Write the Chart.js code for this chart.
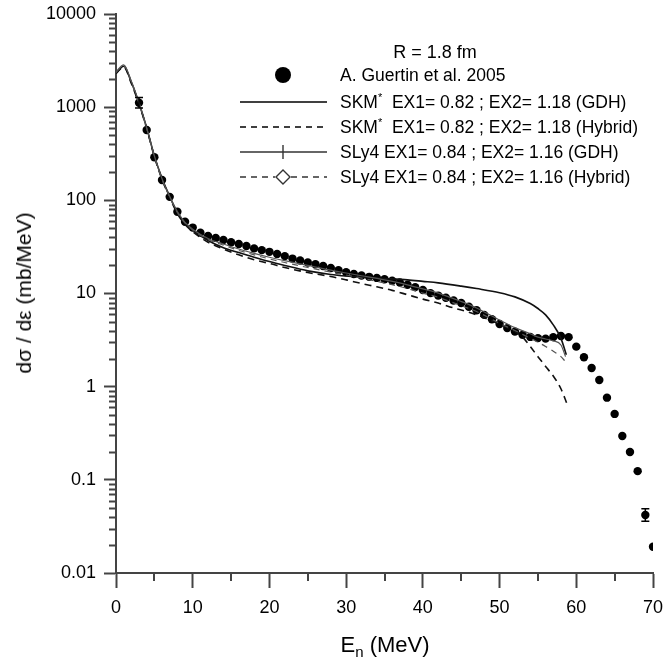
<!DOCTYPE html>
<html>
<head>
<meta charset="utf-8">
<script src="https://cdn.jsdelivr.net/npm/chart.js@4.4.1/dist/chart.umd.min.js"></script>
<style>
  html, body { margin: 0; padding: 0; background: #fff; }
  #wrap { position: relative; width: 663px; height: 662px; font-family: "Liberation Sans", Arial, sans-serif; color: #000; }
  #chart { position: absolute; left: 0; top: 0; }
  .ytitle { position: absolute; left: 24px; top: 293px; transform: translate(-50%, -50%) rotate(-90deg); font-size: 21px; white-space: nowrap; }
  .xtitle { position: absolute; left: 385px; top: 646px; transform: translate(-50%, -50%); font-size: 22px; white-space: nowrap; }
  .xtitle sub { font-size: 15px; }
  .legtitle { position: absolute; left: 435px; top: 52px; transform: translate(-50%, -50%); font-size: 18px; white-space: nowrap; }
  .legrow { position: absolute; left: 340px; font-size: 17.5px; white-space: nowrap; transform: translateY(-50%); }
  .legrow sup { font-size: 11px; }
  .legsvg { position: absolute; left: 238px; }
</style>
</head>
<body>
<div id="wrap">
  <canvas id="chart" width="663" height="662"></canvas>
  <div class="ytitle">dσ / dε (mb/MeV)</div>
  <div class="xtitle">E<sub>n</sub> (MeV)</div>
  <div class="legtitle">R = 1.8 fm</div>
  <div id="legend"></div>
</div>
<script>
// experimental points (MeV, mb/MeV)
const expX = [3, 4, 5, 6, 7, 8, 9, 10, 11, 12, 13, 14, 15, 16, 17, 18, 19, 20, 21, 22, 23, 24, 25, 26, 27, 28, 29, 30,
  31, 32, 33, 34, 35, 36, 37, 38, 39, 40, 41, 42, 43, 44, 45, 46, 47, 48, 49, 50, 51, 52, 53, 54, 55, 56, 57, 58, 59,
  60, 61, 62, 63, 64, 65, 66, 67, 68, 69, 70];
const expY = [1117, 569, 290, 165, 109, 75.5, 59, 51, 45, 41.5, 39.5, 37.5, 35.5, 34, 32.3, 30.5, 29.2, 28, 26.6, 25.2,
  23.7, 22.6, 21.5, 20.6, 19.7, 18.8, 17.8, 16.9, 16.2, 15.6, 15.1, 14.7, 14.2, 13.7, 13.1, 12.4, 11.7, 10.9, 10.1, 9.5,
  9.0, 8.4, 7.9, 7.2, 6.6, 5.9, 5.3, 4.7, 4.25, 3.9, 3.6, 3.42, 3.32, 3.28, 3.4, 3.5, 3.4,
  2.69, 2.07, 1.585, 1.18, 0.762, 0.51, 0.295, 0.199, 0.124, 0.042, 0.0191];
// error bars visible in the picture
const errX = [3, 69];
const errLo = [980, 0.036];
const errHi = [1270, 0.049];

// model curves
const skmGdhX = [0, 1, 2, 3, 4, 5, 6, 7, 8, 9, 10, 12, 14, 16, 18, 20, 22, 25, 28, 30, 32, 35, 38, 40, 42, 45, 47, 50, 52, 54, 55, 56, 57, 58, 58.7];
const skmGdhY = [2300, 2750, 1850, 1100, 600, 300, 172, 110, 74, 57, 48, 37, 31, 27.5, 24.5, 22, 20, 17.5, 16, 15.4, 15, 14.5, 14, 13.5, 13, 12, 11.3, 10.2, 9.2, 7.8, 6.9, 5.9, 4.6, 3.3, 2.2];

const skmHybX = [0, 1, 2, 3, 4, 5, 6, 7, 8, 9, 10, 12, 14, 16, 18, 20, 22, 25, 28, 30, 32, 34, 36, 38, 40, 42, 44, 46, 48, 50, 52, 53, 54, 55, 56, 57, 58, 58.8];
const skmHybY = [2300, 2700, 1800, 1080, 590, 295, 168, 107, 72, 55, 46, 35.5, 30, 26, 23, 21, 19, 16.8, 15.2, 14, 12.8, 11.8, 10.8, 9.7, 8.7, 7.9, 7.0, 6.3, 5.5, 4.7, 3.9, 3.4, 2.7, 2.1, 1.65, 1.3, 0.95, 0.65];

const slyGdhX = [0, 1, 2, 3, 4, 5, 6, 7, 8, 9, 10, 12, 14, 16, 18, 20, 22, 25, 28, 30, 32, 35, 38, 40, 42, 45, 47, 50, 52, 54, 55, 56, 57, 58, 58.6];
const slyGdhY = [2400, 2850, 1900, 1120, 600, 300, 170, 110, 76, 58, 49, 39, 34, 30, 27, 24.5, 22.5, 20, 17.8, 16.6, 15.5, 14, 12.4, 11.2, 10.1, 8.2, 7.0, 5.2, 4.3, 3.7, 3.4, 3.25, 3.1, 2.8, 2.1];

const slyHybX = [0, 1, 2, 3, 4, 5, 6, 7, 8, 9, 10, 12, 14, 16, 18, 20, 22, 25, 28, 30, 32, 35, 38, 40, 42, 45, 47, 50, 52, 54, 55, 56, 57, 58, 58.6];
const slyHybY = [2350, 2800, 1870, 1100, 590, 298, 168, 108, 74, 57, 48, 38, 33, 29, 26, 23.5, 21.5, 19, 17, 15.8, 14.6, 13, 11.3, 10.1, 9.1, 7.4, 6.4, 4.8, 4.0, 3.3, 3.0, 2.7, 2.4, 2.1, 1.85];

const xTicks = [0, 10, 20, 30, 40, 50, 60, 70];
const yTicks = [0.01, 0.1, 1, 10, 100, 1000, 10000];
const yTickLabels = ['0.01', '0.1', '1', '10', '100', '1000', '10000'];

const legendNames = [
  'A. Guertin et al. 2005',
  'SKM<sup>*</sup>&nbsp; EX1= 0.82 ; EX2= 1.18 (GDH)',
  'SKM<sup>*</sup>&nbsp; EX1= 0.82 ; EX2= 1.18 (Hybrid)',
  'SLy4 EX1= 0.84 ; EX2= 1.16 (GDH)',
  'SLy4 EX1= 0.84 ; EX2= 1.16 (Hybrid)'
];

const pts = (xs, ys) => xs.map((v, i) => ({ x: v, y: ys[i] }));
const axisColor = '#444';

// legend (html)
const legRowsY = [75, 102, 127, 152, 177];
const legSamples = [
  '<circle cx="45" cy="9" r="8" fill="#000"/>',
  '<line x1="2" y1="9" x2="89" y2="9" stroke="#000" stroke-width="1.6"/>',
  '<line x1="2" y1="9" x2="89" y2="9" stroke="#000" stroke-width="1.6" stroke-dasharray="6 5"/>',
  '<line x1="2" y1="9" x2="89" y2="9" stroke="#333" stroke-width="1.4"/><line x1="45" y1="2" x2="45" y2="16" stroke="#333" stroke-width="1.4"/>',
  '<line x1="2" y1="9" x2="37" y2="9" stroke="#333" stroke-width="1.4" stroke-dasharray="6 5"/><line x1="53" y1="9" x2="89" y2="9" stroke="#333" stroke-width="1.4" stroke-dasharray="6 5"/><path d="M45 2 L52 9 L45 16 L38 9 Z" fill="#fff" stroke="#333" stroke-width="1.4"/>'
];
const legend = document.getElementById('legend');
legendNames.forEach((name, i) => {
  const svg = document.createElementNS('http://www.w3.org/2000/svg', 'svg');
  svg.setAttribute('width', '92');
  svg.setAttribute('height', '18');
  svg.setAttribute('class', 'legsvg');
  svg.style.top = (legRowsY[i] - 9) + 'px';
  svg.innerHTML = legSamples[i];
  legend.appendChild(svg);
  const row = document.createElement('div');
  row.className = 'legrow';
  row.style.top = legRowsY[i] + 'px';
  row.innerHTML = name;
  legend.appendChild(row);
});

// minor ticks + error bars
const extras = {
  id: 'extras',
  afterDatasetsDraw(chart) {
    const { ctx, scales: { x, y } } = chart;
    ctx.save();
    ctx.strokeStyle = '#000';
    ctx.lineWidth = 1.5;
    errX.forEach((ex, i) => {
      const px = x.getPixelForValue(ex);
      const lo = y.getPixelForValue(errLo[i]);
      const hi = y.getPixelForValue(errHi[i]);
      ctx.beginPath();
      ctx.moveTo(px, lo); ctx.lineTo(px, hi);
      ctx.moveTo(px - 4, lo); ctx.lineTo(px + 4, lo);
      ctx.moveTo(px - 4, hi); ctx.lineTo(px + 4, hi);
      ctx.stroke();
    });
    ctx.restore();
  },
  afterDraw(chart) {
    const { ctx, scales: { x, y }, chartArea } = chart;
    ctx.save();
    ctx.strokeStyle = axisColor;
    ctx.lineWidth = 2;
    ctx.beginPath();
    for (let e = -2; e < 4; e++) {
      for (let k = 2; k < 10; k++) {
        const py = Math.round(y.getPixelForValue(k * Math.pow(10, e))) + 0.5;
        ctx.moveTo(chartArea.left - 7, py);
        ctx.lineTo(chartArea.left, py);
      }
    }
    for (let v = 5; v < 70; v += 10) {
      const px = Math.round(x.getPixelForValue(v));
      ctx.moveTo(px, chartArea.bottom);
      ctx.lineTo(px, chartArea.bottom + 8);
    }
    ctx.stroke();
    ctx.restore();
  }
};

new Chart(document.getElementById('chart'), {
  type: 'scatter',
  data: {
    datasets: [
      {
        label: 'SLy4 Hybrid',
        data: pts(slyHybX, slyHybY),
        showLine: true,
        borderColor: '#555',
        borderWidth: 1.2,
        borderDash: [6, 5],
        pointRadius: 0,
        cubicInterpolationMode: 'monotone'
      },
      {
        label: 'SLy4 GDH',
        data: pts(slyGdhX, slyGdhY),
        showLine: true,
        borderColor: '#555',
        borderWidth: 1.2,
        pointRadius: 0,
        cubicInterpolationMode: 'monotone'
      },
      {
        label: 'SKM* Hybrid',
        data: pts(skmHybX, skmHybY),
        showLine: true,
        borderColor: '#111',
        borderWidth: 1.6,
        borderDash: [7, 5],
        pointRadius: 0,
        cubicInterpolationMode: 'monotone'
      },
      {
        label: 'SKM* GDH',
        data: pts(skmGdhX, skmGdhY),
        showLine: true,
        borderColor: '#111',
        borderWidth: 1.6,
        pointRadius: 0,
        cubicInterpolationMode: 'monotone'
      },
      {
        label: 'A. Guertin et al. 2005',
        data: pts(expX, expY),
        showLine: false,
        pointRadius: 4.2,
        pointBackgroundColor: '#000',
        pointBorderColor: '#000',
        pointBorderWidth: 0
      }
    ]
  },
  options: {
    responsive: false,
    animation: false,
    devicePixelRatio: 1,
    layout: { padding: { left: 0, right: 10, top: 14, bottom: 0 } },
    plugins: { legend: { display: false }, tooltip: { enabled: false } },
    scales: {
      x: {
        type: 'linear',
        min: 0,
        max: 70,
        afterBuildTicks: s => { s.ticks = xTicks.map(v => ({ value: v })); },
        afterFit: s => { s.height = 89; s.paddingLeft = 0; s.paddingRight = 0; },
        border: { display: true, color: axisColor, width: 2 },
        grid: { drawOnChartArea: false, drawTicks: true, tickLength: 15, tickColor: axisColor, tickWidth: 2 },
        ticks: { color: '#000', font: { family: 'Liberation Sans', size: 18 }, padding: 9, maxRotation: 0, autoSkip: false }
      },
      y: {
        type: 'logarithmic',
        min: 0.01,
        max: 10000,
        afterBuildTicks: s => { s.ticks = yTicks.map(v => ({ value: v })); },
        afterFit: s => { s.width = 116; s.paddingTop = 0; s.paddingBottom = 0; },
        border: { display: true, color: axisColor, width: 2 },
        grid: { drawOnChartArea: false, drawTicks: true, tickLength: 12, tickColor: axisColor, tickWidth: 2 },
        ticks: {
          color: '#000',
          font: { family: 'Liberation Sans', size: 18 },
          padding: 8,
          autoSkip: false,
          callback: (v) => {
            const i = yTicks.findIndex(t => Math.abs(Math.log10(t) - Math.log10(v)) < 1e-6);
            return i >= 0 ? yTickLabels[i] : '';
          }
        }
      }
    }
  },
  plugins: [extras]
});
</script>
</body>
</html>
